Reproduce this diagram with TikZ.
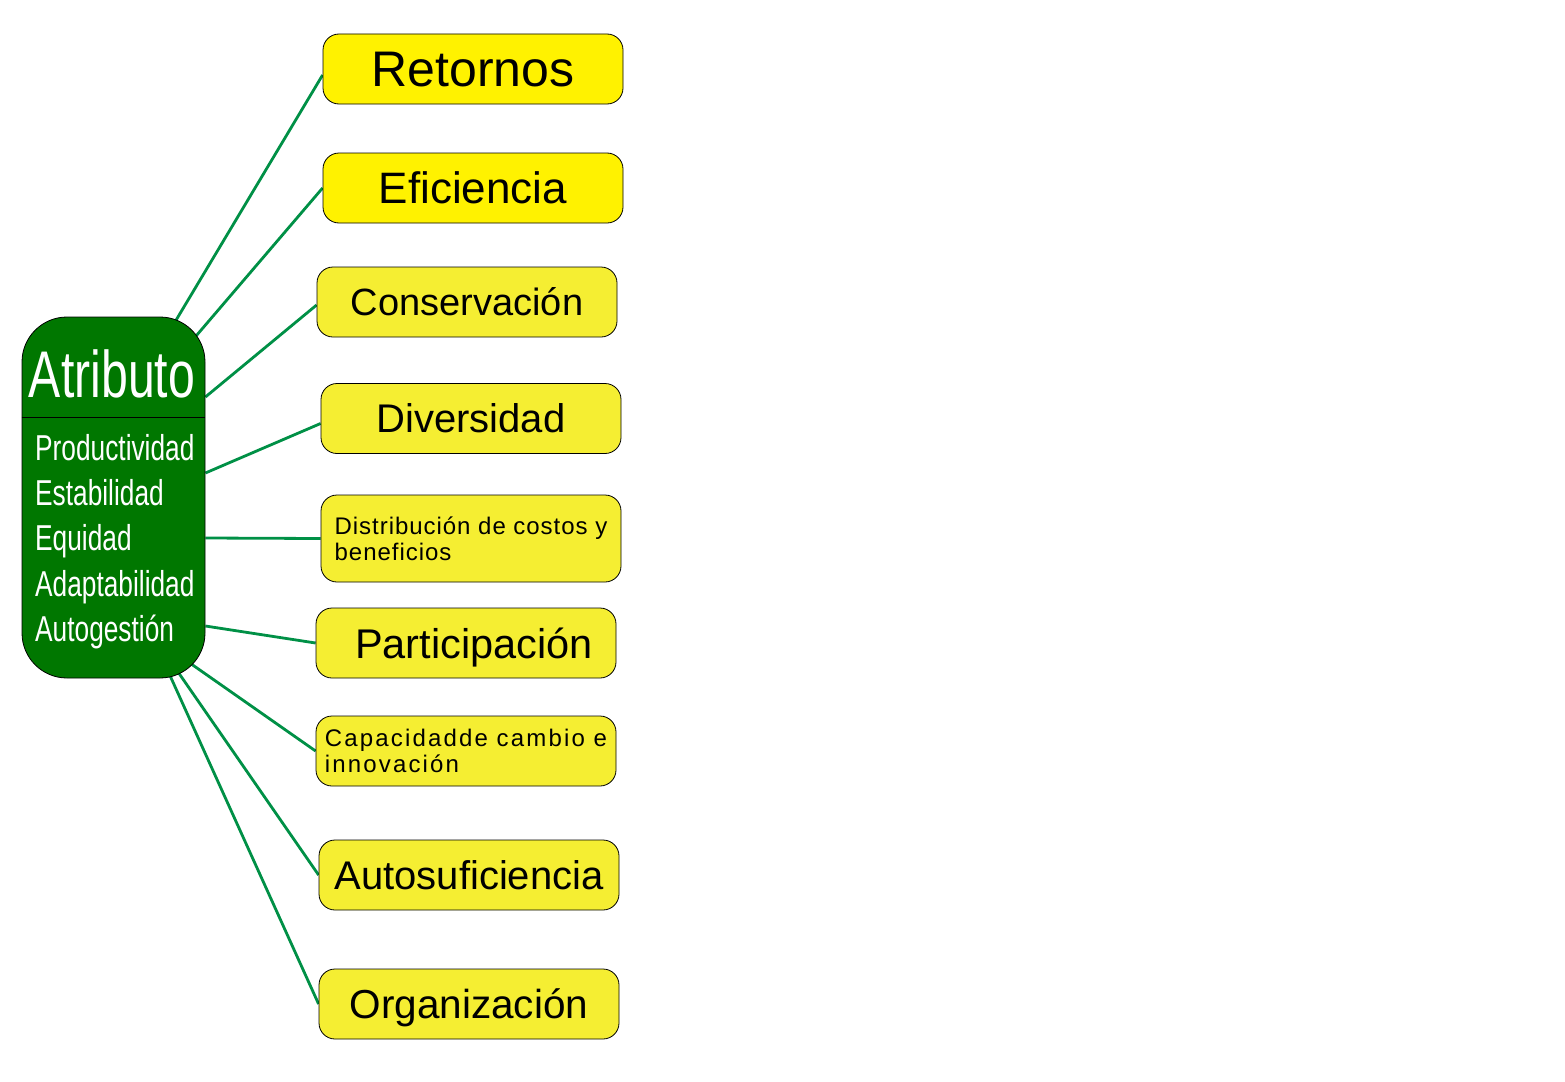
\documentclass[tikz,border=0pt]{standalone}
\usepackage{fontspec}
\setmainfont{Liberation Sans}
\newfontfamily\narrowfont[FakeStretch=0.73]{Liberation Sans}
\newfontfamily\widefont[LetterSpace=4]{Liberation Sans}
\newfontfamily\widerfont[LetterSpace=9]{Liberation Sans}
\usetikzlibrary{backgrounds}
\definecolor{attrgreen}{RGB}{0,119,0}
\definecolor{linkgreen}{RGB}{0,144,70}
\definecolor{brightyellow}{RGB}{255,242,0}
\definecolor{paleyellow}{RGB}{245,238,50}
\begin{document}
\begin{tikzpicture}[x=1pt,y=-1pt,
  box/.style={draw=black, line width=0.8pt, rounded corners=16pt, minimum width=300pt,
    minimum height=70pt, fill=paleyellow, inner sep=0pt},
  single/.style={text depth=0pt},
  link/.style={linkgreen, line width=2.8pt},
  item/.style={text=white, anchor=base west, inner sep=0pt, font=\narrowfont\fontsize{36}{40}\selectfont}]
\useasboundingbox (0,0) rectangle (1565,1081);
%atributo
\node[draw=black, fill=attrgreen, line width=0.8pt, rounded corners=45pt,
  minimum width=183pt, minimum height=361pt, inner sep=0pt] (attr) at (113.5,497.5) {};
\draw [line width=0.8pt] ([yshift=-101pt]attr.north west) -- ([yshift=-101pt]attr.north east);
\node[text=white, anchor=base, inner sep=0pt, font=\narrowfont\fontsize{66}{70}\selectfont] (title) at (112,397) {Atributo};
\node[item] (item1) at (35,460) {Productividad};
\node[item] (item2) at (35,505) {Estabilidad};
\node[item] (item3) at (35,550) {Equidad};
\node[item] (item4) at (35,596) {Adaptabilidad};
\node[item] (item5) at (35,641) {Autogestión};
%boxes
\node[box, single, fill=brightyellow, font=\fontsize{50}{54}\selectfont] (retornos) at (473,69) {Retornos};
\node[box, single, fill=brightyellow, font=\fontsize{44}{48}\selectfont] (eficiencia) at (473,188) {Eficiencia\hspace{12pt}};
\node[box, single, font=\fontsize{38}{42}\selectfont] (conservacion) at (467,302) {Conservación};
\node[box, single, font=\fontsize{40}{44}\selectfont] (diversidad) at (471,418.5) {Diversidad};
\node[box, minimum height=87pt, align=left, font=\widefont\fontsize{24}{26}\selectfont] (distribucion) at (471,538.5) {Distribución de costos y\\beneficios};
\node[box, single, font=\fontsize{41.5}{46}\selectfont] (participacion) at (466,643) {\hspace{16pt}Participación};
\node[box, align=left, font=\widerfont\fontsize{24}{26}\selectfont] (capacidad) at (466,751) {Capacidadde cambio e\\innovación};
\node[box, single, font=\fontsize{40}{44}\selectfont] (autosuficiencia) at (469,875) {Autosuficiencia};
\node[box, single, font=\fontsize{40.5}{44}\selectfont] (organizacion) at (469,1004) {Organización};
%links
\begin{scope}[on background layer]
\draw [link] ([xshift=-35pt,yshift=-13pt]attr.north east) -- ([yshift=-6pt]retornos.west);
\draw [link] ([xshift=-18pt,yshift=-29.5pt]attr.north east) -- (eficiencia.west);
\draw [link] ([yshift=100.5pt]attr.east) -- ([yshift=-3pt]conservacion.west);
\draw [link] ([yshift=24.5pt]attr.east) -- ([yshift=-5pt]diversidad.west);
\draw [link] ([yshift=-40.5pt]attr.east) -- (distribucion.west);
\draw [link] ([yshift=-128.5pt]attr.east) -- (participacion.west);
\draw [link] ([xshift=-25pt,yshift=22pt]attr.south east) -- (capacidad.west);
\draw [link] ([xshift=-34pt,yshift=16pt]attr.south east) -- (autosuficiencia.west);
\draw [link] ([xshift=-40pt,yshift=13pt]attr.south east) -- (organizacion.west);
\end{scope}
\end{tikzpicture}
\end{document}
